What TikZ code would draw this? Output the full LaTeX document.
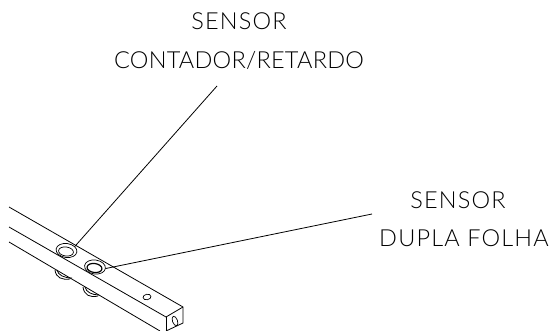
\documentclass[tikz,border=0pt]{standalone}
\usepackage{fontspec}
\usepackage{tikz}
\usetikzlibrary{shapes.geometric}
\newfontfamily\cadfont[LetterSpace=5]{Lato Light}
\newfontfamily\cadtight[LetterSpace=1]{Lato Light}
\tikzstyle{sensortext}=[inner sep=0pt, anchor=base, font=\cadfont\fontsize{23.5}{24}\selectfont]
\tikzstyle{tighttext}=[sensortext, font=\cadtight\fontsize{23.5}{24}\selectfont]
\tikzstyle{rail}=[line width=0.8pt]
\tikzstyle{outerhole}=[ellipse, draw, line width=0.7pt, fill=white, inner sep=0pt, minimum width=21pt, minimum height=14pt, rotate=-8]
\tikzstyle{innerhole}=[ellipse, draw, line width=0.7pt, inner sep=0pt, minimum width=15pt, minimum height=9pt, rotate=-8]
\begin{document}
\begin{tikzpicture}[x=1pt, y=-1pt, line width=0.8pt]
                    \useasboundingbox (0,0) rectangle (551,331);
                    \fill[white] (0,0) rectangle (551,331);
                    \node[sensortext] (s1) at (239,30) {SENSOR};
                    \node[tighttext] (c1) at (239,69) {CONTADOR/RETARDO};
                    \node[sensortext] (s2) at (458,208) {SENSOR};
                    \node[sensortext] (d2) at (464,246) {DUPLA FOLHA};
                    % rail
                    \draw[rail] (9,207)--(183,307)--(183,323)--(166,331);
                    \draw[rail] (9,227)--(166,317)--(183,307);
                    \draw[rail] (9,242)--(160,331);
                    \draw[rail] (166,317)--(166,331);
                    % sensor bodies under the rail
                    \draw[line width=0.8pt] (55,270) .. controls (56,278) and (62,280) .. (70,279);
                    \draw[line width=0.8pt] (57,270) .. controls (58,275) and (64,278) .. (72,278);
                    \draw[line width=0.8pt] (83,287) .. controls (84,295) and (90,298) .. (98,296);
                    \draw[line width=0.8pt] (85,287) .. controls (86,292) and (92,295) .. (99,295);
                    % holes
                    \node[outerhole] (h1) at (66.5,250.5) {};
                    \node[innerhole] (h1i) at (66,251.5) {};
                    \node[outerhole] (h2) at (95,267) {};
                    \node[innerhole, line width=1.2pt] (h2i) at (94.5,268) {};
                    \node[ellipse, draw, line width=0.7pt, inner sep=0pt, minimum width=8pt, minimum height=5.5pt, rotate=10] (h3) at (147,297) {};
                    \node[ellipse, draw, line width=0.7pt, inner sep=0pt, minimum width=5pt, minimum height=10pt, rotate=20] (h4) at (175,321) {};
                    % leaders
                    \coordinate (l1) at (217,86);
                    \coordinate (l2) at (372,214);
                    \draw (l1)--(h1.north east);
                    \draw (l2)--(h2.east);
\end{tikzpicture}
\end{document}
